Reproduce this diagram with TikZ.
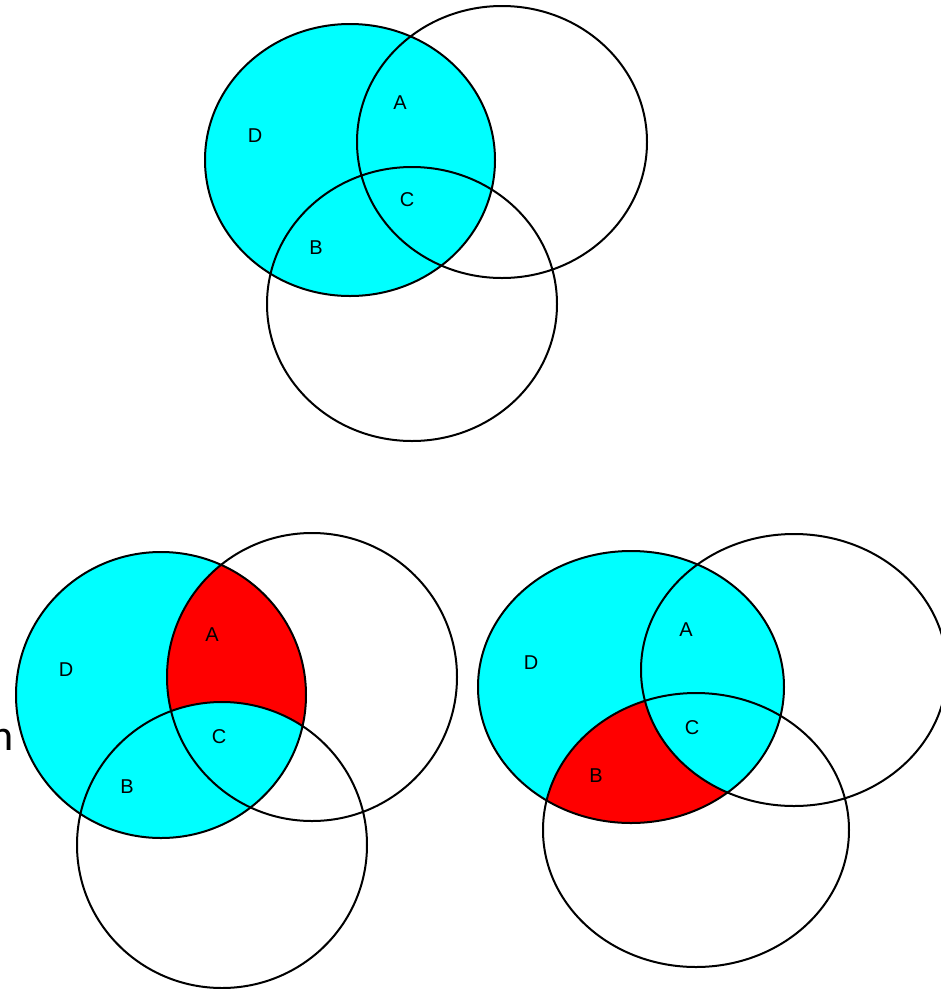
\documentclass[tikz,border=0pt]{standalone}
\usepackage{fontspec}
\setmainfont{Liberation Sans}
\newfontfamily\calibfont{Carlito}
\definecolor{aquafill}{RGB}{0,255,255}
\definecolor{redarea}{RGB}{255,0,0}
\begin{document}
\begin{tikzpicture}[x=1pt,y=-1pt,
  outline/.style={draw=black,line width=2pt},
  lab/.style={font=\fontsize{20}{20}\selectfont, inner sep=0pt},
  cyanfill/.style={fill=aquafill},
  redfill/.style={fill=redarea}]
\useasboundingbox (0,0) rectangle (941,989);
% ---------- top diagram ----------
\def\TD{(350,160) ellipse [x radius=145pt, y radius=136pt]}
\def\TA{(502,142) ellipse [x radius=145pt, y radius=136pt]}
\def\TB{(412,304) ellipse [x radius=145pt, y radius=137pt]}
\fill[cyanfill] \TD;
\draw[outline] \TD;
\draw[outline] \TA;
\draw[outline] \TB;
\node[lab] (tD) at (255,136) {D};
\node[lab] (tA) at (400,103) {A};
\node[lab] (tC) at (407,200) {C};
\node[lab] (tB) at (316,248) {B};
% ---------- bottom-left diagram ----------
\def\LD{(161,695) ellipse [x radius=145pt, y radius=143pt]}
\def\LA{(312,677) ellipse [x radius=145pt, y radius=144pt]}
\def\LB{(222,845) ellipse [x radius=145pt, y radius=143pt]}
\fill[cyanfill] \LD;
\begin{scope}
  \clip \LA;
  \fill[redfill] \LD;
  \clip \LB;
  \fill[cyanfill] \LD;
\end{scope}
\draw[outline] \LD;
\draw[outline] \LA;
\draw[outline] \LB;
\node[lab] (lD) at (66,670) {D};
\node[lab] (lA) at (212,635) {A};
\node[lab] (lC) at (219,737) {C};
\node[lab] (lB) at (127,787) {B};
% ---------- bottom-right diagram ----------
\def\RD{(631,687) ellipse [x radius=153pt, y radius=136pt]}
\def\RA{(794,670) ellipse [x radius=153pt, y radius=136pt]}
\def\RB{(696,830) ellipse [x radius=153pt, y radius=137pt]}
\fill[cyanfill] \RD;
\begin{scope}
  \clip \RB;
  \fill[redfill] \RD;
  \clip \RA;
  \fill[cyanfill] \RD;
\end{scope}
\draw[outline] \RD;
\draw[outline] \RA;
\draw[outline] \RB;
\node[lab] (rD) at (531,663) {D};
\node[lab] (rA) at (686,630) {A};
\node[lab] (rC) at (692,728) {C};
\node[lab] (rB) at (596,776) {B};
% ---------- text at left edge ----------
\node[font=\calibfont\fontsize{44}{44}\selectfont, inner sep=0pt, anchor=base east] (ntext) at (14,750) {n};
\end{tikzpicture}
\end{document}
